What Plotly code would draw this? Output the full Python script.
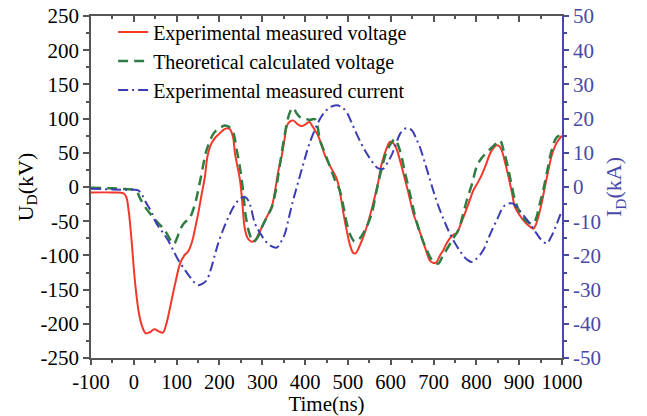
import plotly.graph_objects as go

# ---- data ----
t_exp_v = [-100, -50, -25, -18, -12, -5, 3, 12, 20, 28, 38, 48, 58, 68, 76, 85, 97, 108, 118, 127,
           136, 145, 150, 158, 166, 172, 180, 190, 200, 210, 218, 225, 232, 236, 242, 248, 253, 259,
           266, 275, 283, 292, 302, 312, 322, 330, 338, 345, 352, 358, 365, 373, 382, 392, 402, 410,
           416, 424, 431, 439, 447, 454, 464, 474, 482, 490, 497, 505, 512, 518, 526, 536, 548, 559,
           570, 579, 590, 598, 606, 614, 622, 630, 640, 653, 662, 672, 682, 692, 700, 707, 715, 723,
           730, 738, 746, 754, 763, 773, 783, 793, 803, 812, 822, 832, 840, 847, 853, 859, 867, 875,
           883, 890, 902, 913, 923, 933, 939, 945, 952, 960, 968, 976, 984, 991, 1000]
u_exp_v = [-8, -8, -9, -14, -35, -80, -140, -185, -205, -214, -212, -208, -211, -213, -200, -175, -140,
           -112, -100, -94, -80, -55, -40, -12, 15, 45, 62, 72, 78, 84, 86, 84, 72, 50, 30, 10, -20, -60,
           -75, -80, -78, -68, -55, -42, -29, -5, 25, 44, 70, 90, 96, 97, 92, 89, 92, 95, 90, 82, 74, 60,
           45, 36, 24, 12, -10, -40, -63, -85, -96, -97, -88, -73, -50, -24, 5, 34, 56, 66, 64, 55, 38,
           19, -5, -39, -55, -73, -92, -108, -111, -110, -100, -92, -83, -75, -70, -68, -55, -39, -22,
           -5, 6, 17, 32, 49, 57, 61, 60, 54, 36, 15, -8, -29, -42, -51, -57, -61, -55, -43, -25, 0, 24,
           46, 60, 68, 75]

t_theo_v = [-100, -50, -20, 0, 8, 15, 25, 38, 50, 65, 75, 88, 94, 100, 110, 120, 128, 136, 145, 152,
            160, 168, 175, 185, 195, 205, 213, 222, 232, 240, 248, 255, 262, 270, 279, 288, 298, 310,
            322, 330, 338, 345, 352, 358, 365, 372, 380, 390, 400, 410, 423, 435, 446, 458, 470, 481,
            490, 498, 507, 516, 528, 540, 555, 567, 578, 590, 602, 610, 618, 625, 633, 645, 657, 670,
            684, 698, 711, 722, 735, 746, 758, 768, 778, 790, 801, 812, 825, 840, 855, 863, 871, 880,
            890, 900, 910, 922, 933, 940, 948, 956, 966, 976, 988, 1000]
u_theo_v = [-1, -2, -3, -4, -8, -17, -28, -39, -48, -58, -66, -80, -83, -76, -60, -51, -48, -38, -20, 0,
            25, 50, 63, 77, 84, 88, 90, 88, 80, 55, 28, -5, -45, -68, -80, -75, -60, -45, -30, -10, 20,
            48, 75, 95, 110, 116, 108, 101, 100, 98, 99, 68, 50, 30, 10, -5, -30, -55, -72, -80, -75,
            -63, -40, -5, 25, 51, 65, 70, 60, 45, 22, -10, -43, -70, -92, -108, -112, -100, -87, -75,
            -63, -42, -19, 5, 30, 42, 51, 60, 68, 55, 36, 10, -19, -35, -46, -52, -54, -45, -25, -5, 25,
            54, 73, 76]

t_exp_i = [-100, -50, -20, 0, 10, 18, 26, 40, 53, 66, 80, 92, 104, 118, 131, 142, 151, 160, 170, 180,
           190, 197, 210, 221, 232, 244, 256, 263, 271, 283, 295, 306, 320, 334, 344, 353, 362, 372,
           384, 396, 407, 419, 431, 443, 458, 474, 486, 497, 508, 520, 532, 544, 556, 567, 575, 583,
           592, 602, 612, 622, 632, 641, 650, 660, 668, 680, 692, 703, 715, 727, 738, 752, 766, 778,
           789, 800, 816, 828, 840, 852, 863, 874, 884, 895, 910, 925, 940, 952, 964, 975, 988, 1000]
i_exp_i = [-0.5, -0.7, -0.8, -0.8, -1, -2, -4, -7, -10.7, -13, -15.6, -18.5, -21.4, -24, -26.3, -28,
           -28.7, -28.3, -27.3, -24, -19.5, -16.5, -12, -8.8, -6, -3.9, -2.9, -3.2, -5, -10.7, -13.5,
           -15.6, -17.2, -17.7, -16, -13.6, -9, -3.9, 1.5, 6.8, 11.5, 15.6, 19, 21.5, 23.3, 23.9, 23.3,
           21.9, 19, 15.6, 12.5, 9.8, 7.5, 5.8, 5.3, 5.4, 7, 9.3, 12.5, 15.6, 17, 17.2, 16.5, 14, 11.7,
           7, 2, -2.5, -6.8, -10.5, -13.6, -16.8, -19.5, -21.2, -21.9, -21, -18.5, -15, -11.7, -8.5,
           -5.8, -4.9, -4.8, -6, -8.3, -10.7, -13.5, -15.5, -16.5, -14.5, -10.7, -6.8]

x_ticks = [-100, 0, 100, 200, 300, 400, 500, 600, 700, 800, 900, 1000]
u_ticks = [-250, -200, -150, -100, -50, 0, 50, 100, 150, 200, 250]
i_ticks = [-50, -40, -30, -20, -10, 0, 10, 20, 30, 40, 50]

names = ["Experimental measured voltage", "Theoretical calculated voltage",
         "Experimental measured current"]

# ---- style ----
FONT = "Liberation Serif, Times New Roman, serif"
RED = "#f2382a"
GREEN = "#2f7d42"
BLUE = "#3c3cb4"
AXBLUE = "#4848a8"
AXGRAY = "#555555"
TICKSIZE = 21

fig = go.Figure()
fig.add_trace(go.Scatter(x=t_exp_v, y=u_exp_v, mode="lines", name=names[0],
                         line=dict(color=RED, width=2), line_shape="spline"))
fig.add_trace(go.Scatter(x=t_theo_v, y=u_theo_v, mode="lines", name=names[1],
                         line=dict(color=GREEN, width=2.5, dash="10px,6px"), line_shape="spline"))
fig.add_trace(go.Scatter(x=t_exp_i, y=i_exp_i, mode="lines", name=names[2], yaxis="y2",
                         line=dict(color=BLUE, width=2, dash="10px,4px,2px,4px"), line_shape="spline"))
# helper trace for the top axis
fig.add_trace(go.Scatter(x=[None], y=[None], xaxis="x2", yaxis="y", showlegend=False,
                         hoverinfo="skip"))

fig.update_layout(
    width=647, height=416,
    margin=dict(l=91, r=85, t=16, b=58, autoexpand=False),
    paper_bgcolor="white", plot_bgcolor="white",
    font=dict(family=FONT, size=20, color="black"),
    showlegend=True,
    legend=dict(x=0.047, y=1.0105, xanchor="left", yanchor="top",
                bgcolor="rgba(0,0,0,0)", font=dict(family=FONT, size=20, color="black"),
                tracegroupgap=0, itemwidth=30),
    xaxis=dict(range=[-100, 1000], tickvals=x_ticks, ticktext=[str(v) for v in x_ticks],
               automargin=False,
               showgrid=False, zeroline=False, showline=True, linecolor=AXGRAY, linewidth=1.5,
               ticks="outside", ticklen=5, tickwidth=1.5, tickcolor=AXGRAY,
               minor=dict(ticks="outside", ticklen=3, tickwidth=1.5, tickcolor=AXGRAY, dtick=50,
                          tick0=-100, showgrid=False),
               tickfont=dict(size=20.5, family=FONT, color="black"),
               title=dict(text="Time(ns)", font=dict(size=21, family=FONT, color="black"))),
    xaxis2=dict(range=[-100, 1000], overlaying="x", side="top", anchor="y", automargin=False,
                tickvals=x_ticks, showticklabels=False, showgrid=False, zeroline=False,
                showline=True, linecolor=AXGRAY, linewidth=1.5,
                ticks="inside", ticklen=6, tickwidth=1.5, tickcolor=AXGRAY,
                minor=dict(ticks="inside", ticklen=3, tickwidth=1.5, tickcolor=AXGRAY, dtick=50,
                           tick0=-100, showgrid=False)),
    yaxis=dict(range=[-250, 250], tickvals=u_ticks, ticktext=[str(v) for v in u_ticks],
               automargin=False,
               showgrid=False, zeroline=False, showline=True, linecolor=AXGRAY, linewidth=1.5,
               ticks="outside", ticklen=6, tickwidth=1.5, tickcolor=AXGRAY,
               minor=dict(ticks="outside", ticklen=3, tickwidth=1.5, tickcolor=AXGRAY, dtick=25,
                          tick0=0, showgrid=False),
               tickfont=dict(size=TICKSIZE, family=FONT, color="black"),
               title=dict(text="U<sub>D</sub>(kV)", font=dict(size=22, family=FONT, color="black"),
                          standoff=1)),
    yaxis2=dict(range=[-50, 50], tickvals=i_ticks, ticktext=[str(v) for v in i_ticks],
                overlaying="y", side="right", anchor="x", automargin=False,
                showgrid=False, zeroline=False, showline=True, linecolor=AXBLUE, linewidth=1.5,
                ticks="outside", ticklen=5, tickwidth=1.5, tickcolor=AXBLUE,
                minor=dict(ticks="outside", ticklen=3, tickwidth=1.5, tickcolor=AXBLUE, dtick=5,
                           tick0=0, showgrid=False),
                tickfont=dict(size=TICKSIZE, family=FONT, color=AXBLUE),
                title=dict(text="I<sub>D</sub>(kA)", font=dict(size=22, family=FONT, color=AXBLUE),
                           standoff=1)),
)

fig.write_html("out.html")
